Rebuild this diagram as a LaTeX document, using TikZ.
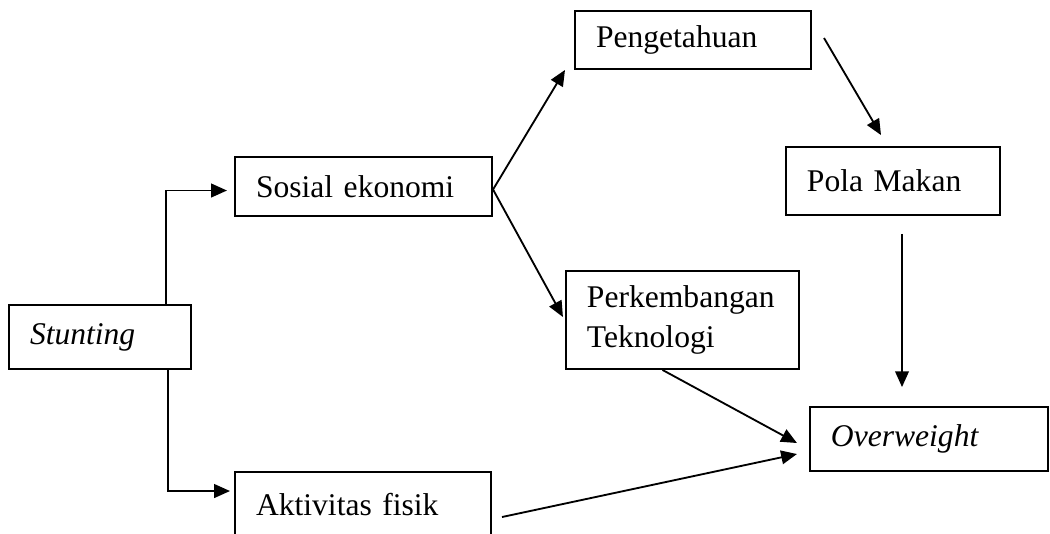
\documentclass[tikz,border=0pt]{standalone}
\usepackage{fontspec}
\setmainfont{Liberation Serif}
\usetikzlibrary{arrows.meta, positioning, calc}

\begin{document}
\begin{tikzpicture}[
    x=0.38pt, y=-0.38pt,
    every node/.style={font=\fontsize{12}{15.5}\selectfont},
    box/.style={draw=black, line width=0.75pt, align=left, inner xsep=8pt, inner ysep=2pt},
    arrow/.style={-{Triangle[length=6pt, width=5.2pt]}, line width=0.7pt}
  ]
  \useasboundingbox (0,0) rectangle (1050,533);
  \node[box, text width=53.2pt, minimum height=24.3pt] (stunting) at (100,337) {\textit{Stunting}};
  \node[box, text width=81.7pt, minimum height=22.4pt] (sosial) at (363.5,186.5) {Sosial ekonomi};
  \node[box, text width=81.3pt, minimum height=25pt] (aktivitas) at (363,505) {Aktivitas fisik};
  \node[box, text width=73.7pt, minimum height=22pt] (pengetahuan) at (693,40) {Pengetahuan};
  \node[box, text width=65.4pt, minimum height=25.8pt] (pola) at (893,181) {Pola Makan};
  \node[box, text width=72.6pt, minimum height=37.2pt] (teknologi) at (682.5,320) {Perkembangan\\Teknologi};
  \node[box, text width=74.5pt, minimum height=24.3pt] (overweight) at (929,439) {\textit{Overweight}};
  \draw[arrow] ([shift={(66,0)}]stunting.north) |- ([shift={(-7,4)}]sosial.west);
  \draw[arrow] ([shift={(68,0)}]stunting.south) |- ([shift={(-4,-14)}]aktivitas.west);
  \draw[arrow] ([shift={(0,3)}]sosial.east) -- ([shift={(-9,0)}]pengetahuan.south west);
  \draw[arrow] ([shift={(0,3)}]sosial.east) -- ([shift={(-2,-3)}]teknologi.west);
  \draw[arrow] ([shift={(12,-2)}]pengetahuan.east) -- ([shift={(-12,-11)}]pola.north);
  \draw[arrow] ([shift={(9,18)}]pola.south) -- ([shift={(-27,-19)}]overweight.north);
  \draw[arrow] ([shift={(-20,0)}]teknologi.south) -- ([shift={(-12,4)}]overweight.west);
  \draw[arrow] ([shift={(10,12)}]aktivitas.east) -- ([shift={(-12,15)}]overweight.west);
\end{tikzpicture}
\end{document}
